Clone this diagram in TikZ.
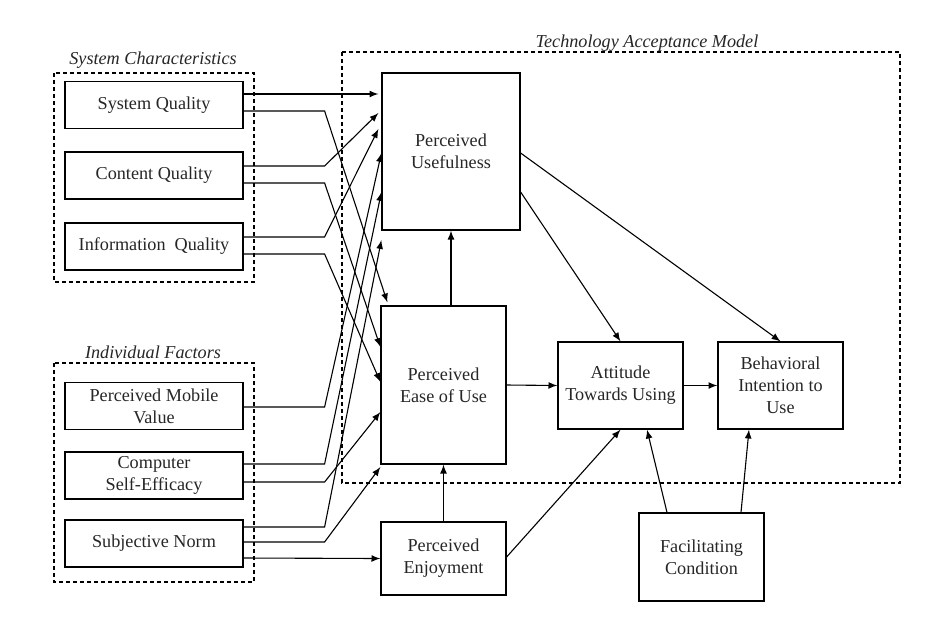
\documentclass[tikz,border=0pt]{standalone}
\usepackage{fontspec}
\setmainfont{Liberation Serif}
\usetikzlibrary{calc}

\tikzset{
    factor/.style={draw, line width=0.6pt, minimum width=89pt, minimum height=23.5pt, inner sep=1pt},
    construct/.style={draw, line width=0.6pt, minimum width=62.5pt, inner sep=1pt},
    group/.style={draw, line width=0.6pt, dash pattern=on 2pt off 1.5pt},
    grouplabel/.style={font=\fontsize{9.1}{10.9}\selectfont\itshape},
    arr/.style={draw, line width=0.55pt, -latex}
}

\begin{document}
\begin{tikzpicture}[
    x=0.5pt, y=-0.5pt,
    every node/.style={align=center, font=\fontsize{9.1}{10.9}\selectfont, text=black!85}
]
  \useasboundingbox (0,0) rectangle (948,628);

  % groups
  \draw[group] (54,73) rectangle (254,282);
  \draw[group] (54,363) rectangle (254,582);
  \draw[group] (342,52) rectangle (900,483);
  \node[grouplabel] (syslbl) at (153,60) {System Characteristics};
  \node[grouplabel] (indlbl) at (153,352) {Individual Factors};
  \node[grouplabel] (tamlbl) at (647,43) {Technology Acceptance Model};

  % external factors
  \node[factor] (sq) at (154,105) {System Quality};
  \node[factor] (cq) at (154,175.5) {Content Quality};
  \node[factor] (iq) at (154,246.5) {Information\enspace Quality};
  \node[factor] (pmv) at (154,406) {Perceived Mobile\\Value};
  \node[factor] (cse) at (154,475.5) {Computer\\Self-Efficacy};
  \node[factor] (sn) at (154,543.5) {Subjective Norm};

  % TAM constructs
  \node[construct, minimum width=69pt, minimum height=78.5pt] (pu) at (451,151.5) {Perceived\\Usefulness};
  \node[construct, minimum height=79pt] (peou) at (443.5,385) {Perceived\\Ease of Use};
  \node[construct, minimum height=43.5pt] (att) at (620.5,385.5) {Attitude\\Towards Using};
  \node[construct, minimum height=43.5pt] (bi) at (780.5,385.5) {Behavioral\\Intention to\\Use};
  \node[construct, minimum height=36.5pt] (pe) at (443.5,558.5) {Perceived\\Enjoyment};
  \node[construct, minimum height=44pt] (fc) at (701.5,557) {Facilitating\\Condition};

  % system characteristics
  \draw[arr] ($(sq.east)+(0,-11)$) -- ($(pu.west)+(-3,-57.5)$);
  \draw[arr] ($(sq.east)+(0,6)$) -- ++(81,0) -- ($(peou.north west)+(7,-3)$);
  \draw[arr] ($(cq.east)+(0,-9.5)$) -- ++(81,0) -- ($(pu.west)+(-3,-38.5)$);
  \draw[arr] ($(cq.east)+(0,7.5)$) -- ++(81,0) -- ($(peou.west)+(0,-38)$);
  \draw[arr] ($(iq.east)+(0,-9.5)$) -- ++(81,0) -- ($(pu.west)+(-3,-22.5)$);
  \draw[arr] ($(iq.east)+(0,7.5)$) -- ++(81,0) -- ($(peou.west)+(0,-3)$);

  % individual factors
  \draw[arr] ($(pmv.east)+(0,1)$) -- ++(81,0) -- ($(pu.west)+(0,1.5)$);
  \draw[arr] ($(cse.east)+(0,-11.5)$) -- ++(81,0) -- ($(pu.west)+(0,40.5)$);
  \draw[arr] ($(cse.east)+(0,6.5)$) -- ++(81,0) -- ($(peou.west)+(0,27)$);
  \draw[arr] ($(sn.east)+(0,-16.5)$) -- ++(81,0) -- ($(pu.west)+(0,88.5)$);
  \draw[arr] ($(sn.east)+(0,-1.5)$) -- ++(81,0) -- ($(peou.west)+(0,82)$);
  \draw[arr] ($(sn.east)+(0,14.5)$) -- (pe.west);

  % TAM paths
  \draw[arr] ($(pu.east)+(0,40.5)$) -- (att.north);
  \draw[arr] ($(pu.east)+(0,1.5)$) -- (bi.north);
  \draw[arr] (pu.south |- peou.north) -- (pu.south);
  \draw[arr] (peou.east) -- (att.west);
  \draw[arr] (att.east) -- (bi.west);
  \draw[arr] (pe.north) -- (peou.south);
  \draw[arr] ($(pe.east)+(0,-1.5)$) -- (att.south);
  \draw[arr] ($(fc.north)+(-34.5,0)$) -- ($(att.south)+(26.5,0)$);
  \draw[arr] ($(fc.north)+(39.5,0)$) -- ($(bi.south)+(-31.5,0)$);
\end{tikzpicture}
\end{document}
